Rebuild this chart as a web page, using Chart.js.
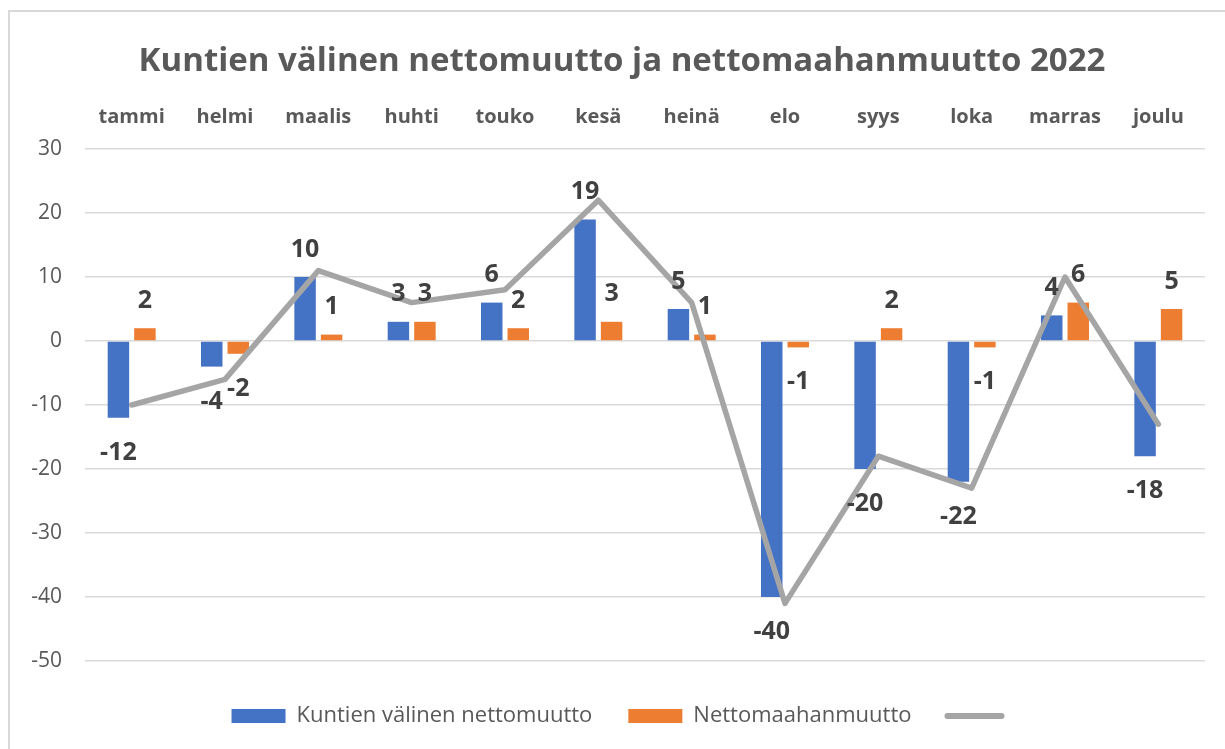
<!DOCTYPE html>
<html><head><meta charset="utf-8">
<script src="https://cdn.jsdelivr.net/npm/chart.js@4.4.1/dist/chart.umd.min.js"></script>
<style>
html,body{margin:0;padding:0;background:#fff;}
#wrap{position:relative;width:1225px;height:749px;overflow:hidden;background:#fff;}
#frame{position:absolute;left:8px;top:10px;width:1250px;height:800px;border:2px solid #d9d9d9;box-sizing:border-box;pointer-events:none;}
canvas{position:absolute;left:0;top:0;}
</style></head><body>
<div id="wrap"><canvas id="c" width="1225" height="749"></canvas><div id="frame"></div></div>
<script>
const chartTitle = 'Kuntien välinen nettomuutto ja nettomaahanmuutto 2022';
const months = ['tammi','helmi','maalis','huhti','touko','kesä','heinä','elo','syys','loka','marras','joulu'];
const seriesNames = ['Kuntien välinen nettomuutto','Nettomaahanmuutto',''];
const kuntienValinen = [-12,-4,10,3,6,19,5,-40,-20,-22,4,-18];
const nettomaahanmuutto = [2,-2,1,3,2,3,1,-1,2,-1,6,5];
const yhteensa = [-10,-6,11,6,8,22,6,-41,-18,-23,10,-13];
const yTicks = [30,20,10,0,-10,-20,-30,-40,-50];

const FONT = '"Open Sans", "DejaVu Sans", sans-serif';
const TEXT = '#595959';

const valueLabels = {
  id: 'valueLabels',
  beforeLayout(chart) {
    const lg = chart.legend;
    if (lg && !lg._fixedH) {
      const f = lg.fit;
      lg.fit = function() { f.call(this); this.height = 88; };
      lg._fixedH = true;
    }
  },
  afterLayout(chart) {
    const lg = chart.legend;
    if (lg) { lg.top += 8; lg.bottom += 8; }
  },
  afterDatasetsDraw(chart) {
    const ctx = chart.ctx;
    ctx.save();
    ctx.font = 'bold 25px ' + FONT;
    ctx.fillStyle = '#404040';
    ctx.textAlign = 'center';
    ctx.textBaseline = 'alphabetic';
    chart.data.datasets.forEach((ds, di) => {
      if (ds.type === 'line') return;
      const meta = chart.getDatasetMeta(di);
      meta.data.forEach((el, i) => {
        const v = ds.data[i];
        const y = v >= 0 ? el.y - 20.5 : el.y + 42;
        ctx.fillText(String(v), el.x, y);
      });
    });
    ctx.restore();
  }
};

new Chart(document.getElementById('c'), {
  type: 'bar',
  data: {
    labels: months,
    datasets: [
      {type:'line', label: seriesNames[2], data: yhteensa, borderColor:'#A5A5A5', backgroundColor:'#A5A5A5',
       borderWidth:5.5, pointRadius:0, pointHoverRadius:0, tension:0, borderCapStyle:'round', borderJoinStyle:'round', order:0},
      {label: seriesNames[0], data: kuntienValinen, backgroundColor:'#4472C4', borderWidth:0,
       categoryPercentage:0.568, barPercentage:0.81, order:1},
      {label: seriesNames[1], data: nettomaahanmuutto, backgroundColor:'#ED7D31', borderWidth:0,
       categoryPercentage:0.568, barPercentage:0.81, order:1}
    ]
  },
  options: {
    responsive:false,
    animation:false,
    layout:{padding:{left:39, right:20, top:12, bottom:0}},
    plugins:{
      title:{display:true, text:chartTitle, color:TEXT, font:{family:FONT, size:33, weight:'bold', lineHeight:1.2}, padding:{top:30, bottom:5}},
      legend:{
        position:'bottom',
        labels:{
          usePointStyle:true, pointStyleWidth:54, boxHeight:14, padding:36, color:TEXT,
          font:{family:FONT, size:22},
          sort:(a,b)=>{const o=[1,2,0]; return o.indexOf(a.datasetIndex)-o.indexOf(b.datasetIndex);},
          generateLabels(chart){
            const items = Chart.defaults.plugins.legend.labels.generateLabels(chart);
            items.forEach(it=>{
              const ds = chart.data.datasets[it.datasetIndex];
              if (ds.type === 'line') { it.pointStyle='line'; it.lineWidth=6; it.strokeStyle='#A5A5A5'; it.lineCap='round'; }
              else { it.pointStyle='rect'; it.lineWidth=0; }
            });
            return items;
          }
        }
      },
      tooltip:{enabled:false}
    },
    scales:{
      x:{
        position:'top',
        grid:{display:false, drawTicks:false},
        border:{display:false},
        ticks:{color:TEXT, font:{family:FONT, size:20, weight:'bold'}, padding:20, autoSkip:false, maxRotation:0},
        afterFit(scale){ scale.height = 149 - (12 + 30 + 39.6 + 5); }
      },
      y:{
        min:-50, max:30,
        grid:{color:'#d9d9d9', lineWidth:1.5, drawTicks:false},
        border:{display:false},
        ticks:{color:TEXT, font:{family:FONT, size:21}, padding:23},
        afterBuildTicks(scale){ scale.ticks = yTicks.map(v=>({value:v})); },
        afterFit(scale){ scale.width = 46; scale._computeLabelArea = function(){ return undefined; }; }
      }
    }
  },
  plugins:[valueLabels]
});
</script>
</body></html>
